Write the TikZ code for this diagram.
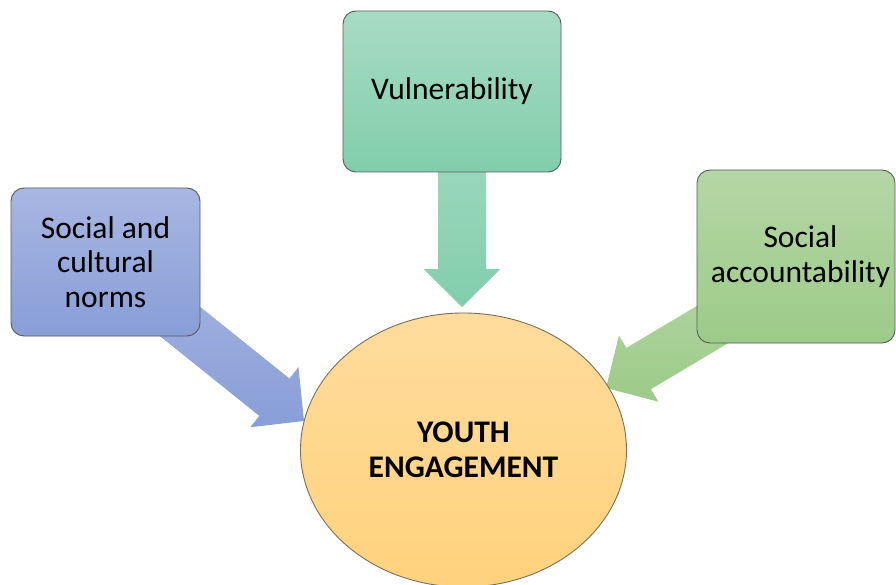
\documentclass[tikz,border=0pt]{standalone}
\usepackage{fontspec}
\setmainfont{Carlito}
\usetikzlibrary{calc,shapes.geometric}
\definecolor{bluetop}{RGB}{168,182,226}
\definecolor{bluebot}{RGB}{136,158,215}
\definecolor{teatop}{RGB}{168,219,197}
\definecolor{teabot}{RGB}{129,206,171}
\definecolor{grntop}{RGB}{181,214,165}
\definecolor{grnbot}{RGB}{156,203,136}
\definecolor{ylwtop}{RGB}{255,220,157}
\definecolor{ylwbot}{RGB}{255,210,124}
\definecolor{boxline}{RGB}{90,90,90}
\definecolor{ellline}{RGB}{120,110,90}
\newcommand\blockarrow[4]{%
  \coordinate (hb) at ($(#2)!38pt!(#1)$);
  \path[top color=#3,bottom color=#4]
    ($(#1)!24pt!90:(#2)$) --
    ($(hb)!24pt!-90:(#1)$) --
    ($(hb)!38.5pt!-90:(#1)$) --
    (#2) --
    ($(hb)!38.5pt!90:(#1)$) --
    ($(hb)!24pt!90:(#1)$) --
    ($(#1)!24pt!-90:(#2)$) -- cycle;}
\tikzset{
  factorbox/.style={draw=boxline, line width=0.9pt, rounded corners=13pt,
    align=center, inner sep=0pt, font=\fontsize{31.5}{34.5}\selectfont},
  centrebox/.style={ellipse, draw=ellline, line width=0.9pt, inner sep=0pt,
    minimum width=326pt, minimum height=274pt, top color=ylwtop, bottom color=ylwbot,
    align=center, font=\fontsize{31.5}{34.5}\selectfont\bfseries}
}
\begin{document}
\begin{tikzpicture}[x=1pt,y=-1pt]
\useasboundingbox (0,0) rectangle (896,585);
% anchor points for arrows
\coordinate (vulS) at (462,92);
\coordinate (vulT) at (462,307);
\coordinate (normS) at (106,262);
\coordinate (normT) at (304,421);
\coordinate (accS) at (794,276);
\coordinate (accT) at (606,388);
% arrows (behind boxes)
\blockarrow{vulS}{vulT}{teatop}{teabot}
\blockarrow{normS}{normT}{bluetop}{bluebot}
\blockarrow{accS}{accT}{grntop}{grnbot}
% boxes
\node[factorbox, minimum width=218pt, minimum height=161pt,
  top color=teatop, bottom color=teabot] (vul) at (452,91.5) {\raisebox{-1.5pt}{Vulnerability}};
\node[factorbox, minimum width=189pt, minimum height=148pt,
  top color=bluetop, bottom color=bluebot] (norm) at (105.5,262) {Social and\\cultural\\norms};
\node[factorbox, minimum width=198pt, minimum height=173pt,
  top color=grntop, bottom color=grnbot] (acc) at (796,256.5)
  {\hspace*{9pt}Social\\\hspace*{9pt}accountability};
% centre
\node[centrebox] (youth) at (463.5,450) {YOUTH\\ENGAGEMENT};
\end{tikzpicture}
\end{document}
